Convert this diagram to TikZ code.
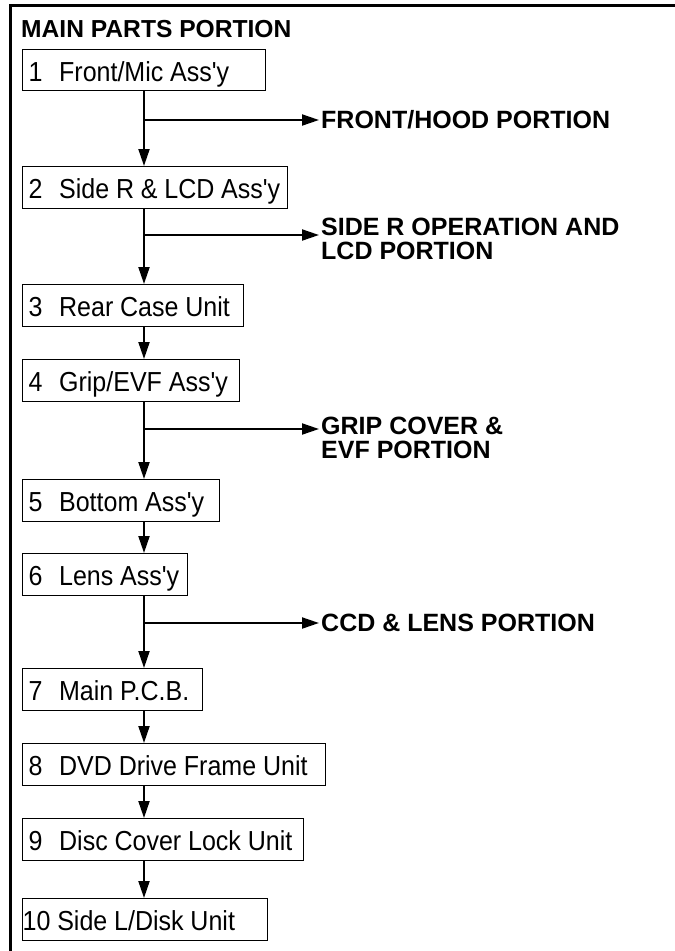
\documentclass[tikz,border=0pt]{standalone}
\usepackage{fontspec}
\newfontfamily\lsans{Liberation Sans}
\newfontfamily\lsansn[FakeStretch=0.91]{Liberation Sans}
\usetikzlibrary{arrows.meta}
\newcommand\nm[2]{\mbox{\spaceskip=6.8pt\relax\makebox[30.5pt][l]{#1}#2}}
\begin{document}
\begin{tikzpicture}[x=1pt,y=-1pt,
  box/.style={draw, line width=1.3pt, anchor=north west, inner ysep=0pt, inner xsep=6pt,
    text height=32pt, text depth=9.5pt, text width=#1, align=left,
    font=\lsansn\fontsize{27.5}{30}\selectfont},
  lbl/.style={font=\lsans\bfseries\fontsize{25}{24}\selectfont, inner xsep=2pt, inner ysep=0pt, align=left},
  arr/.style={line width=2pt, -{Triangle[length=17pt,width=11pt]}},
  frame/.style={line width=3pt}]
\useasboundingbox (0,0) rectangle (675,951);
\draw[frame] (10,951) -- (10,5) -- (675,5);
\node[font=\lsans\bfseries\fontsize{24.6}{24}\selectfont, anchor=base west, inner sep=0pt] (title) at (21,37.5) {MAIN PARTS PORTION};
\coordinate (spine) at (144,0);
\node[box=231pt] (b1) at (22,48.5) {\nm{1}{Front/Mic Ass'y}};
\node[box=253pt] (b2) at (22,166) {\nm{2}{Side R \& LCD Ass'y}};
\node[box=209pt] (b3) at (22,284) {\nm{3}{Rear Case Unit}};
\node[box=205pt] (b4) at (22,359) {\nm{4}{Grip/EVF Ass'y}};
\node[box=185pt] (b5) at (22,479) {\nm{5}{Bottom Ass'y}};
\node[box=153pt] (b6) at (22,553) {\nm{6}{Lens Ass'y}};
\node[box=168pt] (b7) at (22,668) {\nm{7}{Main P.C.B.}};
\node[box=291pt] (b8) at (22,743) {\nm{8}{DVD Drive Frame Unit}};
\node[box=269pt] (b9) at (22,818) {\nm{9}{Disc Cover Lock Unit}};
\node[box=245pt, inner xsep=0pt] (b10) at (22,898) {\mbox{\spaceskip=6.8pt\relax 10 Side L/Disk Unit}};
\node[lbl, anchor=west] (l1) at (319,120) {FRONT/HOOD PORTION};
\node[lbl, anchor=north west] (l2) at (319,218) {SIDE R OPERATION AND\\LCD PORTION};
\node[lbl, anchor=north west] (l3) at (319,417) {GRIP COVER \&\\EVF PORTION};
\node[lbl, anchor=west] (l4) at (319,623) {CCD \& LENS PORTION};
\coordinate (j1) at (144,120);
\coordinate (j2) at (144,235);
\coordinate (j3) at (144,429);
\coordinate (j4) at (144,623);
\draw[arr] (b1.south -| spine) -- (b2.north -| spine);
\draw[arr] (b2.south -| spine) -- (b3.north -| spine);
\draw[arr] (b3.south -| spine) -- (b4.north -| spine);
\draw[arr] (b4.south -| spine) -- (b5.north -| spine);
\draw[arr] (b5.south -| spine) -- (b6.north -| spine);
\draw[arr] (b6.south -| spine) -- (b7.north -| spine);
\draw[arr] (b7.south -| spine) -- (b8.north -| spine);
\draw[arr] (b8.south -| spine) -- (b9.north -| spine);
\draw[arr] (b9.south -| spine) -- (b10.north -| spine);
\draw[arr] (j1) -- (j1 -| l1.west);
\draw[arr] (j2) -- (j2 -| l2.west);
\draw[arr] (j3) -- (j3 -| l3.west);
\draw[arr] (j4) -- (j4 -| l4.west);
\end{tikzpicture}
\end{document}
